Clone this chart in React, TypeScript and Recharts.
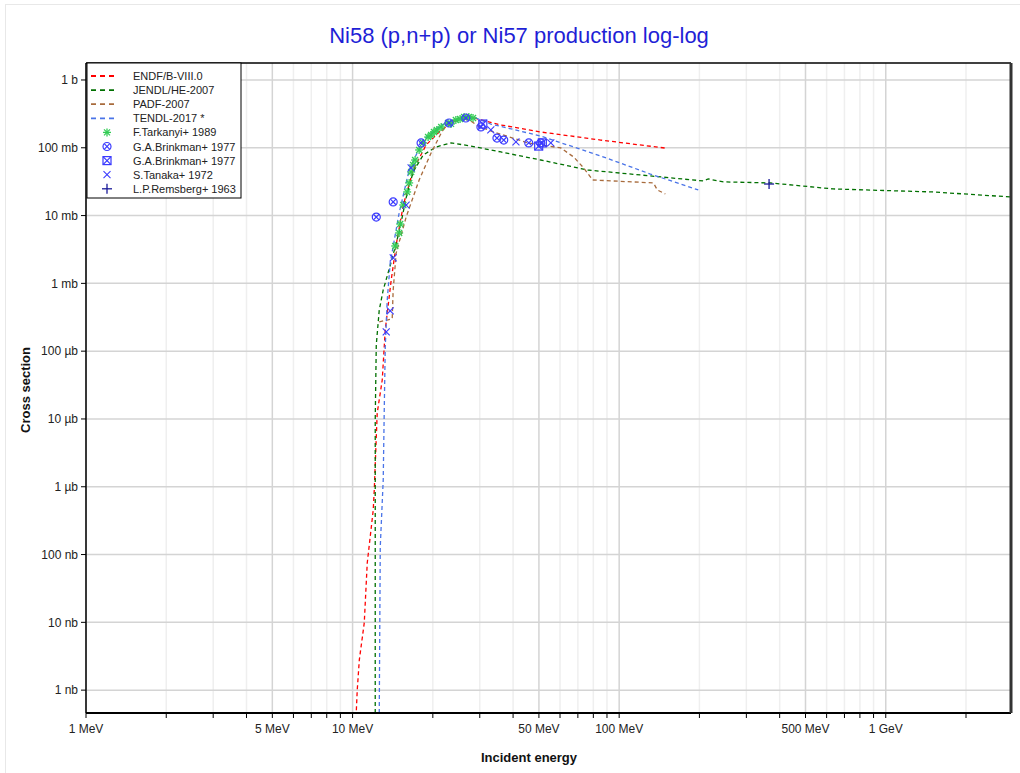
import React from 'react';
import { ComposedChart, Line, Scatter, XAxis, YAxis, ReferenceLine } from 'recharts';

// energies in MeV, cross sections in mb
// curves that drop to zero are clamped at the bottom of the plot
const Y_MIN = 4.6e-7;
const X_MAX = 2950;

const endfE = [1, 10.32, 10.41, 10.6, 11.06, 11.35, 11.95, 12.06, 12.37, 12.92, 13.26, 13.96, 14.57, 15.5, 16.87, 18.87, 21.5, 24.4, 27.8, 30.3, 36, 50.8, 85.2, 149];
const endfS = [Y_MIN, Y_MIN, 1e-6, 2.8e-6, 9.8e-6, 7.5e-5, 4.5e-4, 9e-4, 0.0122, 0.0376, 0.206, 1.12, 3.68, 14.3, 47, 110, 183, 248, 285, 257, 217, 171, 130, 99];

const jendlE = [12.16, 12.16, 12.27, 12.59, 13.03, 13.96, 14.95, 15.88, 16.87, 18.39, 20.6, 23.4, 27.8, 36, 50.8, 76.2, 120, 207, 216, 246, 369, 634, 1500, 2950];
const jendlS = [Y_MIN, 0.0097, 0.123, 0.405, 0.8, 2.07, 5.73, 18.2, 44, 78, 103, 118, 106, 86.7, 66, 47, 39.7, 32.4, 34.7, 31.4, 30.3, 24.7, 22.3, 18.8];

const padfE = [12.59, 14.08, 14.2, 14.57, 15.88, 17.77, 19.7, 21.5, 22.8, 25.5, 27.8, 29.5, 33, 45.4, 60.4, 67.5, 73.6, 79.5, 134.5, 139, 149];
const padfS = [0.27, 0.3, 0.8, 2.8, 9.5, 33.5, 83.8, 165, 240, 275, 248, 210, 177, 118, 99.3, 73.1, 50.4, 33.5, 30.3, 23.9, 20.8];

const tendlE = [12.59, 12.7, 13.03, 13.14, 13.26, 13.49, 13.84, 14.95, 16.3, 18.39, 21.5, 25.5, 29, 33, 50.8, 85.2, 131, 198];
const tendlS = [Y_MIN, 1.29e-4, 1.26e-3, 0.0122, 0.115, 0.569, 2.0, 10.9, 47, 130, 217, 275, 275, 224, 149, 75.7, 41, 23.9];

const tarkanyiE = [14.45, 14.95, 15.09, 15.5, 16.02, 16.3, 16.58, 16.87, 17.16, 17.77, 18.39, 19.2, 19.7, 20.2, 20.7, 21.5, 22.8, 23.4, 24.4, 25.3, 26.2, 27.3, 28.3];
const tarkanyiS = [3.56, 5.54, 7.5, 14.3, 22.3, 30.3, 44, 55.7, 66, 92.8, 118, 144, 154, 171, 183, 203, 232, 225, 257, 266, 285, 285, 275];

const brinkmanAE = [12.27, 14.2, 18.07, 23, 26.6, 30.3, 34.8, 36.9, 45.8, 50.8];
const brinkmanAS = [9.5, 15.9, 118, 232, 275, 203, 139, 130, 118, 118];

const brinkmanBE = [30.8, 49.9, 51.5];
const brinkmanBS = [224, 106, 118];

const tanakaE = [13.37, 13.84, 14.2, 15.88, 16.58, 33, 41, 55.4];
const tanakaS = [0.192, 0.392, 2.37, 14.3, 50.4, 183, 122, 118];

const remsbergE = [365];
const remsbergS = [29.2];

// axis ticks
const xMajor = [1, 5, 10, 50, 100, 500, 1000];
const xMajorLabels = ['1 MeV', '5 MeV', '10 MeV', '50 MeV', '100 MeV', '500 MeV', '1 GeV'];
const xMinor = [2, 3, 4, 6, 7, 8, 9, 20, 30, 40, 60, 70, 80, 90, 200, 300, 400, 600, 700, 800, 900, 2000];
const yTicks = [1e-6, 1e-5, 1e-4, 1e-3, 1e-2, 0.1, 1, 10, 100, 1000];
const yTickLabels = ['1 nb', '10 nb', '100 nb', '1 µb', '10 µb', '100 µb', '1 mb', '10 mb', '100 mb', '1 b'];

const xTicks = [...xMajor, ...xMinor].sort((a, b) => a - b);

const rows = (e: number[], s: number[]) => e.map((x, i) => ({ e: x, s: s[i] }));

const FONT = '"Liberation Sans", Arial, sans-serif';
const MARK_BLUE = '#3a3aff';

// marker shapes
const Asterisk = ({ cx, cy }: any) => (
    <g stroke="#33cc55" strokeWidth={1.3}>
        <line x1={cx - 4} y1={cy} x2={cx + 4} y2={cy} />
        <line x1={cx} y1={cy - 4} x2={cx} y2={cy + 4} />
        <line x1={cx - 3} y1={cy - 3} x2={cx + 3} y2={cy + 3} />
        <line x1={cx - 3} y1={cy + 3} x2={cx + 3} y2={cy - 3} />
    </g>
);

const CircleX = ({ cx, cy }: any) => (
    <g stroke={MARK_BLUE} strokeWidth={1.2} fill="none">
        <circle cx={cx} cy={cy} r={4} />
        <line x1={cx - 2.8} y1={cy - 2.8} x2={cx + 2.8} y2={cy + 2.8} />
        <line x1={cx - 2.8} y1={cy + 2.8} x2={cx + 2.8} y2={cy - 2.8} />
    </g>
);

const SquareX = ({ cx, cy }: any) => (
    <g stroke={MARK_BLUE} strokeWidth={1.2} fill="none">
        <rect x={cx - 4} y={cy - 4} width={8} height={8} />
        <line x1={cx - 4} y1={cy - 4} x2={cx + 4} y2={cy + 4} />
        <line x1={cx - 4} y1={cy + 4} x2={cx + 4} y2={cy - 4} />
    </g>
);

const Cross = ({ cx, cy }: any) => (
    <g stroke={MARK_BLUE} strokeWidth={1.1}>
        <line x1={cx - 3.5} y1={cy - 3.5} x2={cx + 3.5} y2={cy + 3.5} />
        <line x1={cx - 3.5} y1={cy + 3.5} x2={cx + 3.5} y2={cy - 3.5} />
    </g>
);

const Plus = ({ cx, cy }: any) => (
    <g stroke="#1a1a99" strokeWidth={1.3}>
        <line x1={cx - 5} y1={cy} x2={cx + 5} y2={cy} />
        <line x1={cx} y1={cy - 5} x2={cx} y2={cy + 5} />
    </g>
);

const curves = [
    { name: 'ENDF/B-VIII.0', color: '#ff0000', data: rows(endfE, endfS) },
    { name: 'JENDL/HE-2007', color: '#007000', data: rows(jendlE, jendlS) },
    { name: 'PADF-2007', color: '#a86b3c', data: rows(padfE, padfS) },
    { name: 'TENDL-2017 *', color: '#4a74e8', data: rows(tendlE, tendlS) },
];

const points = [
    { name: 'F.Tarkanyi+ 1989', shape: Asterisk, data: rows(tarkanyiE, tarkanyiS) },
    { name: 'G.A.Brinkman+ 1977', shape: CircleX, data: rows(brinkmanAE, brinkmanAS) },
    { name: 'G.A.Brinkman+ 1977', shape: SquareX, data: rows(brinkmanBE, brinkmanBS) },
    { name: 'S.Tanaka+ 1972', shape: Cross, data: rows(tanakaE, tanakaS) },
    { name: 'L.P.Remsberg+ 1963', shape: Plus, data: rows(remsbergE, remsbergS) },
];

function ChartLegend() {
    const rowH = 14.1;
    return (
        <svg width={156} height={138} style={{ position: 'absolute', left: 86, top: 62 }}>
            <rect x={1} y={1} width={154} height={135} fill="#fff" stroke="#000" strokeWidth={1} />
            {curves.map((c, i) => (
                <g key={c.name}>
                    <line x1={5} x2={31} y1={14 + i * rowH} y2={14 + i * rowH} stroke={c.color} strokeWidth={1.8} strokeDasharray="5 4" />
                    <text x={47} y={18 + i * rowH} fontSize={11} fontFamily={FONT} fill="#222">{c.name}</text>
                </g>
            ))}
            {points.map((p, j) => {
                const i = j + curves.length;
                const Shape = p.shape;
                return (
                    <g key={i}>
                        <Shape cx={21} cy={14 + i * rowH} />
                        <text x={47} y={18 + i * rowH} fontSize={11} fontFamily={FONT} fill="#222">{p.name}</text>
                    </g>
                );
            })}
        </svg>
    );
}

export default function App() {
    return (
        <div style={{ position: 'absolute', left: 0, top: 0, width: 1020, height: 773, background: '#fff', fontFamily: FONT }}>
            <ComposedChart width={1020} height={773} margin={{ top: 63, right: 9, bottom: 0, left: 0 }}>
                <XAxis
                    dataKey="e"
                    type="number"
                    scale="log"
                    domain={[1, X_MAX]}
                    allowDataOverflow
                    ticks={xTicks}
                    interval={0}
                    height={60}
                    tickSize={5}
                    tickMargin={6}
                    axisLine={{ stroke: '#000', strokeWidth: 2 }}
                    tickLine={{ stroke: '#000' }}
                    tick={{ fontSize: 12, fill: '#222', fontFamily: FONT }}
                    tickFormatter={(v: number) => {
                        const i = xMajor.indexOf(v);
                        return i >= 0 ? xMajorLabels[i] : '';
                    }}
                />
                <XAxis
                    xAxisId="top"
                    orientation="top"
                    mirror
                    type="number"
                    scale="log"
                    domain={[1, X_MAX]}
                    allowDataOverflow
                    ticks={xTicks}
                    interval={0}
                    tickSize={4}
                    tick={false}
                    axisLine={{ stroke: '#000', strokeWidth: 1.5 }}
                    tickLine={{ stroke: '#000' }}
                />
                <YAxis
                    dataKey="s"
                    type="number"
                    scale="log"
                    domain={[Y_MIN, 1780]}
                    allowDataOverflow
                    ticks={yTicks}
                    interval={0}
                    width={86}
                    tickSize={5}
                    tickMargin={3}
                    axisLine={{ stroke: '#000', strokeWidth: 1.5 }}
                    tickLine={{ stroke: '#000' }}
                    tick={{ fontSize: 12, fill: '#222', fontFamily: FONT }}
                    tickFormatter={(v: number) => {
                        const i = yTicks.indexOf(v);
                        return i >= 0 ? yTickLabels[i] : '';
                    }}
                />
                <YAxis
                    yAxisId="right"
                    orientation="right"
                    mirror
                    type="number"
                    scale="log"
                    domain={[Y_MIN, 1780]}
                    allowDataOverflow
                    ticks={yTicks}
                    interval={0}
                    tickSize={4}
                    tick={false}
                    axisLine={{ stroke: '#333', strokeWidth: 3 }}
                    tickLine={{ stroke: '#333' }}
                />

                {/* grid */}
                {xMinor.map((v) => (
                    <ReferenceLine key={`xm-${v}`} x={v} stroke="#efefef" strokeWidth={1.5} />
                ))}
                {xMajor.map((v) => (
                    <ReferenceLine key={`xM-${v}`} x={v} stroke="#d4d4d4" strokeWidth={1.5} />
                ))}
                {yTicks.map((v) => (
                    <ReferenceLine key={`y-${v}`} y={v} stroke="#d4d4d4" strokeWidth={1.5} />
                ))}

                {curves.map((c) => (
                    <Line
                        key={c.name}
                        data={c.data}
                        dataKey="s"
                        type="linear"
                        stroke={c.color}
                        strokeWidth={1.3}
                        strokeDasharray="4 3"
                        dot={false}
                        activeDot={false}
                        isAnimationActive={false}
                    />
                ))}
                {points.map((p, i) => (
                    <Scatter
                        key={`p-${i}`}
                        data={p.data}
                        dataKey="s"
                        shape={p.shape}
                        isAnimationActive={false}
                    />
                ))}
            </ComposedChart>

            <svg width={1020} height={773} style={{ position: 'absolute', left: 0, top: 0, pointerEvents: 'none' }}>
                <line x1={5} y1={4.5} x2={1020} y2={4.5} stroke="#e8e8e8" />
                <line x1={5.5} y1={4} x2={5.5} y2={773} stroke="#e8e8e8" />
                <text x={519} y={43} textAnchor="middle" fontSize={22} fontFamily={FONT} fill="#1f1fd6">
                    Ni58 (p,n+p) or Ni57 production log-log
                </text>
                <text x={529} y={762} textAnchor="middle" fontSize={13} fontWeight="bold" fontFamily={FONT} fill="#111">
                    Incident energy
                </text>
                <text
                    x={0}
                    y={0}
                    transform="translate(30,390) rotate(-90)"
                    textAnchor="middle"
                    fontSize={13}
                    fontWeight="bold"
                    fontFamily={FONT}
                    fill="#111"
                >
                    Cross section
                </text>
            </svg>
            <ChartLegend />
        </div>
    );
}
